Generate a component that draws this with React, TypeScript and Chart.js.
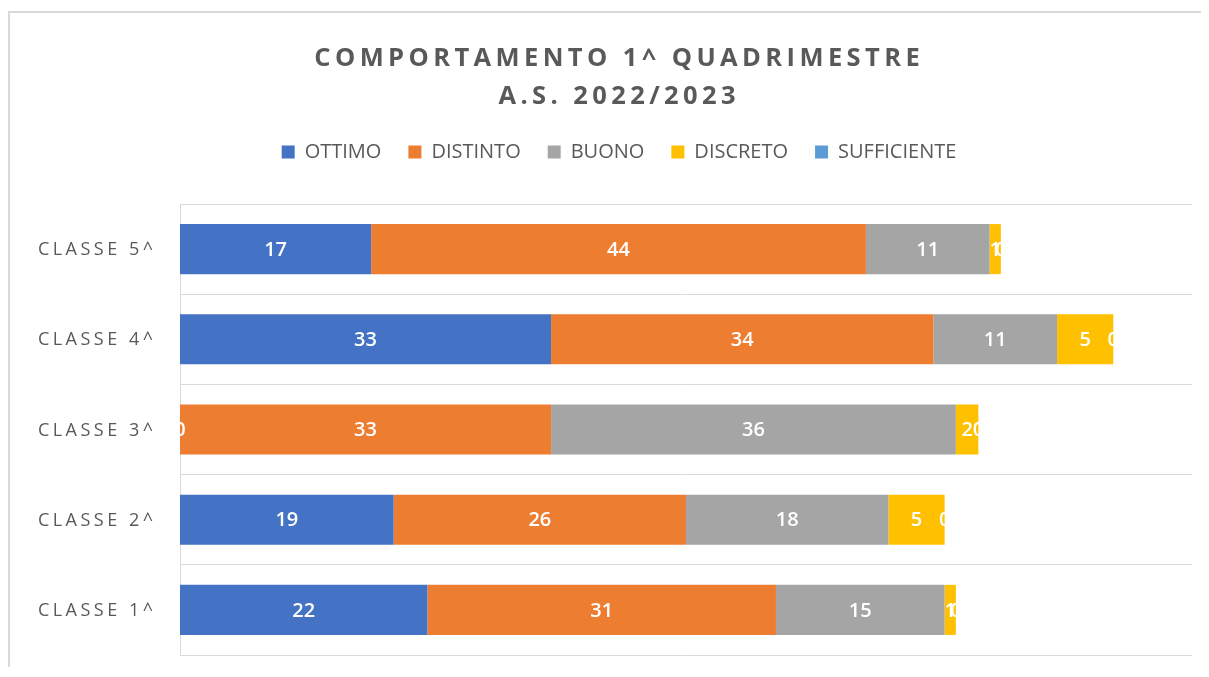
import React, { useEffect, useRef } from 'react';
import { Chart, registerables } from 'chart.js';

Chart.register(...registerables);

const TITLE_LINES = ['COMPORTAMENTO 1^ QUADRIMESTRE', 'A.S. 2022/2023'];
const CATEGORIES = ['CLASSE 5^', 'CLASSE 4^', 'CLASSE 3^', 'CLASSE 2^', 'CLASSE 1^'];
const SERIES_NAMES = ['OTTIMO', 'DISTINTO', 'BUONO', 'DISCRETO', 'SUFFICIENTE'];
const OTTIMO = [17, 33, 0, 19, 22];
const DISTINTO = [44, 34, 33, 26, 31];
const BUONO = [11, 11, 36, 18, 15];
const DISCRETO = [1, 5, 2, 5, 1];
const SUFFICIENTE = [0, 0, 0, 0, 0];
const SERIES_VALUES = [OTTIMO, DISTINTO, BUONO, DISCRETO, SUFFICIENTE];
const COLORS = ['#4472C4', '#ED7D31', '#A5A5A5', '#FFC000', '#5B9BD5'];
const X_MIN = 0;
const X_MAX = 90;

const TEXT_GRAY = '#595959';

const customText = {
  id: 'customText',
  afterDatasetsDraw(chart: any) {
    const ctx = chart.ctx;
    ctx.save();
    ctx.font = '600 20px "Open Sans"';
    ctx.fillStyle = '#ffffff';
    ctx.textAlign = 'center';
    ctx.textBaseline = 'middle';
    chart.data.datasets.forEach((ds: any, di: number) => {
      const meta = chart.getDatasetMeta(di);
      meta.data.forEach((el: any, i: number) => {
        const { x, y, base } = el.getProps(['x', 'y', 'base'], true);
        ctx.fillText(String(ds.data[i]), (x + base) / 2, y + 1);
      });
    });
    ctx.restore();
  },
  afterDraw(chart: any) {
    const ctx = chart.ctx;
    ctx.save();
    ctx.fillStyle = TEXT_GRAY;
    ctx.textBaseline = 'middle';
    ctx.textAlign = 'left';
    // Title with wide letter spacing
    const tls = 4.4;
    ctx.font = 'bold 25.5px "Open Sans"';
    ctx.letterSpacing = tls + 'px';
    const cx = 607;
    const titleY = [45.5, 84];
    TITLE_LINES.forEach((t, i) => {
      const w = ctx.measureText(t).width - tls;
      ctx.fillText(t, cx - w / 2, titleY[i]);
    });
    // Category labels with letter spacing
    const yls = 3.5;
    ctx.font = '18px "Open Sans"';
    ctx.letterSpacing = yls + 'px';
    const ys = chart.scales.y;
    CATEGORIES.forEach((c, i) => {
      const w = ctx.measureText(c).width - yls;
      ctx.fillText(c, 143 - w, ys.getPixelForTick(i) + 1);
    });
    ctx.restore();
  },
};

export default function App() {
  const canvasRef = useRef<HTMLCanvasElement | null>(null);

  useEffect(() => {
    if (!canvasRef.current) return;
    const chart = new Chart(canvasRef.current, {
      type: 'bar',
      data: {
        labels: CATEGORIES,
        datasets: SERIES_NAMES.map((name, i) => ({
          label: name,
          data: SERIES_VALUES[i],
          backgroundColor: COLORS[i],
          borderWidth: 0,
          categoryPercentage: 0.555,
          barPercentage: 1,
        })),
      },
      options: {
        indexAxis: 'y',
        animation: false,
        responsive: true,
        maintainAspectRatio: false,
        layout: { padding: { top: 102, right: 17, bottom: 12, left: 36 } },
        plugins: {
          title: { display: false },
          tooltip: { enabled: false },
          legend: {
            display: true,
            position: 'top',
            align: 'center',
            labels: {
              boxWidth: 13,
              boxHeight: 13,
              padding: 27,
              color: TEXT_GRAY,
              font: { family: '"Open Sans"', size: 20 },
            },
          },
        },
        scales: {
          x: {
            stacked: true,
            position: 'top',
            min: X_MIN,
            max: X_MAX,
            display: true,
            grid: { display: false },
            border: { display: false },
            ticks: { display: false },
            afterFit: (s: any) => {
              s.height = 32;
            },
          },
          y: {
            stacked: true,
            grid: { display: true, color: '#d9d9d9', lineWidth: 1, drawTicks: false },
            border: { display: true, color: '#d9d9d9', width: 1 },
            ticks: { display: false },
            afterFit: (s: any) => {
              s.width = 134;
            },
          },
        },
      },
      plugins: [customText],
    });
    return () => chart.destroy();
  }, []);

  return (
    <div
      style={{
        position: 'relative',
        width: 1201,
        height: 656,
        marginTop: 3,
        borderTop: '2px solid #d9d9d9',
        borderLeft: '2px solid #d9d9d9',
        boxSizing: 'border-box',
        background: '#ffffff',
      }}
    >
      <canvas ref={canvasRef} />
    </div>
  );
}
